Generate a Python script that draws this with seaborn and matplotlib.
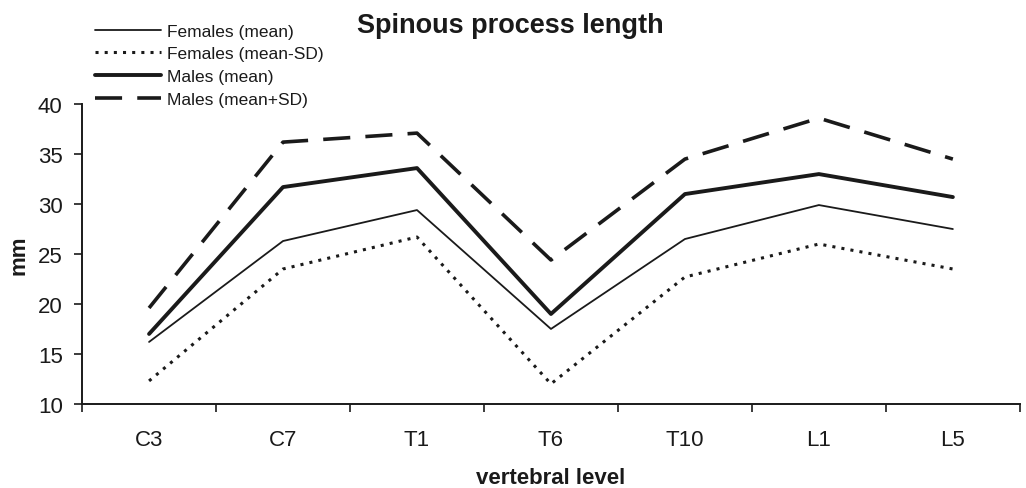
import numpy as np
import pandas as pd
import matplotlib
matplotlib.use("Agg")
import matplotlib.pyplot as plt
import seaborn as sns
from matplotlib.ticker import FixedLocator, NullFormatter, FixedFormatter

levels = ["C3", "C7", "T1", "T6", "T10", "L1", "L5"]
females_mean = [16.2, 26.3, 29.4, 17.5, 26.5, 29.9, 27.5]
females_mean_minus_sd = [12.3, 23.5, 26.7, 12.0, 22.7, 26.0, 23.5]
males_mean = [17.0, 31.7, 33.6, 19.0, 31.0, 33.0, 30.7]
males_mean_plus_sd = [19.6, 36.2, 37.1, 24.4, 34.5, 38.6, 34.5]

series_names = ["Females (mean)", "Females (mean-SD)", "Males (mean)", "Males (mean+SD)"]
series_values = [females_mean, females_mean_minus_sd, males_mean, males_mean_plus_sd]

sns.set_theme(style="white")
plt.rcParams["font.family"] = ["Liberation Sans", "DejaVu Sans"]

ink = "#1a1a1a"
fig = plt.figure(figsize=(10.26, 4.89), dpi=100)
ax = fig.add_axes([0.080, 0.172, 0.914, 0.613])

styles = {
    "Females (mean)": dict(linewidth=1.3, linestyle="-"),
    "Females (mean-SD)": dict(linewidth=2.2, linestyle=(0, (1.0, 2.0))),
    "Males (mean)": dict(linewidth=2.8, linestyle="-"),
    "Males (mean+SD)": dict(linewidth=2.6, linestyle=(0, (7.5, 4.2))),
}

for name, vals in zip(series_names, series_values):
    df = pd.DataFrame({"level": np.arange(len(levels)), "mm": vals})
    sns.lineplot(data=df, x="level", y="mm", ax=ax, color=ink,
                 label=name, **styles[name])

ax.set_xlim(-0.5, len(levels) - 0.5)
ax.set_ylim(10, 40)
ax.set_yticks([10, 15, 20, 25, 30, 35, 40])

# category boundaries carry the ticks, labels sit in between
ax.xaxis.set_major_locator(FixedLocator(np.arange(-0.5, len(levels), 1.0)))
ax.xaxis.set_major_formatter(NullFormatter())
ax.xaxis.set_minor_locator(FixedLocator(np.arange(len(levels))))
ax.xaxis.set_minor_formatter(FixedFormatter(levels))
ax.tick_params(axis="x", which="major", direction="out", length=6, width=1.2,
               color=ink, bottom=True)
ax.tick_params(axis="x", which="minor", length=0, labelsize=16, pad=18,
               labelcolor=ink, bottom=True)
ax.tick_params(axis="y", direction="out", length=6, width=1.2, left=True,
               labelsize=16, color=ink, labelcolor=ink, pad=8)

for side in ["top", "right"]:
    ax.spines[side].set_visible(False)
for side in ["left", "bottom"]:
    ax.spines[side].set_color(ink)
    ax.spines[side].set_linewidth(1.4)

ax.set_xlabel("vertebral level", fontsize=16, fontweight="bold", labelpad=12,
              color=ink)
ax.set_ylabel("mm", fontsize=16, fontweight="bold", labelpad=6, color=ink)
ax.grid(False)

fig.suptitle("Spinous process length", x=0.497, y=0.973, fontsize=19.5,
             fontweight="bold", color=ink)

leg = ax.legend(loc="upper left", bbox_to_anchor=(0.093, 0.95),
                bbox_transform=fig.transFigure, frameon=False, fontsize=12.5,
                handlelength=3.8, handletextpad=0.3, labelspacing=0.44,
                borderaxespad=0, borderpad=0)
for t in leg.get_texts():
    t.set_color(ink)

fig.savefig("out.png", dpi=100, facecolor="white")
